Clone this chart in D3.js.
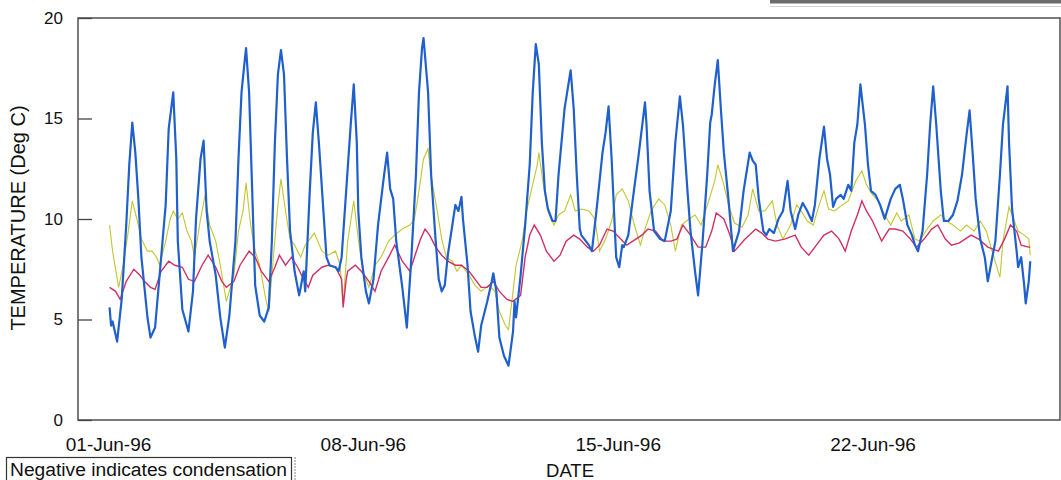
<!DOCTYPE html>
<meta charset="utf-8">
<style>
body { margin: 0; background: #fff; }
svg { font-family: "Liberation Sans", Arial, sans-serif; }
.tick line { stroke: #444; stroke-width: 1.3; }
</style>
<body>
<svg width="1061" height="480"></svg>
<script src="https://d3js.org/d3.v7.min.js"></script>
<script>

// hours after 01-Jun-96 00:00 and temperatures (Deg C)
var blueHours = [1,2,3,6,9,12,14,16,18,20,22,26,28,31,34,38,40,43,45,46,49,53,56,58,61,63,65,67,71,74,77,80,84,86,88,90,91,93,95,97,100,103,106,108,110,112,114,116,118,120,123,126,129,130,133,135,137,139,142,144,146,150,152,154,157,160,162,164,165,167,170,172,175,178,182,184,186,188,190,194,197,200,203,205,207,208,210,211,213,216,218,220,222,224,227,229,231,233,234,237,239,242,244,246,250,253,254,256,258,261,264,267,268,269,272,275,278,280,282,284,286,288,290,293,295,297,301,305,307,309,311,312,315,317,319,322,326,328,330,332,334,335,337,339,340,343,346,350,354,355,357,360,364,367,371,374,377,379,382,384,387,389,392,395,397,398,400,402,404,406,409,412,416,419,423,425,427,429,432,434,436,439,442,445,448,450,453,455,458,461,464,466,469,472,474,476,478,480,483,485,488,490,492,494,496,499,501,503,506,509,512,516,519,522,524,527,530,532,534,537,540,542,544,546,549,551,554,557,560,563,566,568,570,572,575,578,580,582,585,588,590,593,594,596,599,600,602,604,605,607,608];
var blueTemps = [5.6,4.7,4.9,3.9,6.0,9.7,12.7,14.8,13.3,11.0,8.1,5.1,4.1,4.6,7.2,10.7,14.5,16.3,13.0,8.9,5.5,4.4,6.4,10.0,13.0,13.9,10.4,8.9,7.2,5.1,3.6,5.2,8.9,13.0,16.3,17.8,18.5,16.3,11.5,6.7,5.2,4.9,5.6,8.9,13.8,17.2,18.4,17.2,13.0,9.4,7.4,6.2,7.4,6.4,11.4,14.3,15.8,13.8,10.4,8.1,7.7,7.6,7.4,8.1,11.4,14.7,16.7,13.8,10.4,8.1,6.4,5.8,7.0,9.7,12.2,13.3,11.5,11.0,8.9,6.6,4.6,8.1,12.2,16.3,18.5,19.0,17.2,16.3,12.2,8.9,7.0,6.4,6.7,8.2,9.7,10.7,10.4,11.1,10.0,7.7,5.4,4.1,3.4,4.7,5.9,6.9,7.3,6.4,4.1,3.2,2.7,4.4,5.9,5.1,7.2,9.7,12.7,16.3,18.7,17.7,13.8,11.4,10.5,9.9,9.9,12.2,15.5,17.4,15.5,12.2,9.5,9.2,8.9,8.7,8.4,10.4,13.3,14.3,15.6,13.0,9.7,8.1,7.6,8.7,8.6,9.2,11.0,13.3,15.8,14.7,11.4,9.4,9.0,8.9,10.4,13.8,16.1,14.7,11.4,9.4,7.4,6.2,8.9,12.2,14.8,15.2,16.7,17.9,15.5,13.3,11.0,8.4,9.4,11.4,13.3,12.9,12.7,11.0,9.4,9.2,9.5,9.3,10.0,10.4,11.9,10.4,9.5,10.2,10.8,10.4,9.9,10.7,13.0,14.6,13.0,12.2,10.6,11.0,11.2,11.0,11.7,11.4,13.8,14.7,16.7,14.7,12.7,11.4,11.2,10.7,10.0,11.0,11.5,11.7,11.0,9.7,9.2,8.7,8.4,9.4,12.2,14.7,16.6,14.7,11.4,9.9,9.9,10.2,10.9,12.2,14.2,15.4,13.3,11.0,9.0,8.1,6.9,7.7,8.9,12.2,14.7,16.6,13.8,10.5,8.4,7.6,8.1,6.7,5.8,6.9,7.9];

var yellowHours = [1,3,7,10,13,16,19,22,26,29,32,34,38,41,43,46,49,52,55,57,61,64,67,71,74,78,83,86,89,91,94,97,100,104,106,109,112,114,117,120,123,127,130,133,136,141,145,150,153,155,158,162,165,168,172,176,180,185,189,194,199,202,205,208,211,212,214,217,220,223,227,230,233,238,242,246,251,255,258,262,264,267,269,273,276,279,283,284,287,290,294,297,301,305,308,312,317,321,324,328,332,335,339,343,347,351,354,358,363,367,371,374,378,383,387,391,396,400,402,406,409,413,418,422,425,429,433,438,441,445,450,454,457,461,465,468,472,475,479,484,488,493,497,500,504,508,512,516,520,523,528,532,535,540,544,549,553,557,562,566,571,575,579,584,588,590,594,597,600,604,607,608];
var yellowTemps = [9.7,8.4,6.6,7.7,9.2,10.9,10.0,9.0,8.4,8.4,8.1,7.7,8.9,10.0,10.4,10.0,10.3,9.4,8.9,8.1,10.0,11.2,9.7,8.9,7.7,5.9,7.2,9.4,10.4,11.8,9.7,8.4,7.7,6.0,5.4,8.1,10.7,12.0,10.4,9.0,8.7,8.1,8.7,9.0,9.3,8.4,8.2,8.4,7.7,5.8,8.9,10.9,9.0,7.4,6.6,7.7,8.1,8.9,9.2,9.5,9.7,10.0,11.4,13.0,13.5,12.7,11.7,10.4,9.0,8.1,7.9,7.4,7.7,7.2,6.7,6.4,6.7,6.4,5.4,4.7,4.5,6.4,7.7,8.9,10.4,11.4,12.7,13.3,11.7,10.4,9.7,10.2,10.4,11.2,10.4,10.5,10.4,10.0,8.4,9.0,9.9,11.2,11.5,10.9,9.7,8.7,9.5,10.4,11.0,10.7,9.7,8.4,9.7,10.0,10.2,9.7,10.9,11.9,12.7,11.7,10.7,9.8,9.6,10.2,11.5,10.4,10.4,10.9,9.7,9.0,9.7,10.7,10.4,9.9,9.7,10.5,11.4,10.5,10.4,10.7,10.9,11.9,12.4,11.7,11.2,10.9,10.2,9.7,10.3,9.9,10.2,9.0,8.9,9.5,9.9,10.2,9.9,9.7,9.4,9.7,9.4,9.9,9.4,8.1,7.1,8.9,10.6,10.0,9.4,9.2,9.0,8.2];

var redHours = [1,5,8,12,17,21,24,28,31,35,40,44,49,53,57,62,66,71,75,78,83,87,93,97,101,106,110,113,117,121,125,129,132,135,141,145,150,154,155,157,158,163,167,172,176,180,185,189,194,199,202,206,209,212,216,220,224,229,233,238,242,246,250,254,258,263,267,272,275,278,281,285,289,294,298,302,307,311,316,320,324,329,333,338,342,346,352,356,361,366,371,375,379,384,389,394,398,401,406,410,413,420,427,431,435,440,446,453,457,462,466,472,477,482,486,490,494,497,500,504,507,510,515,519,524,529,533,538,543,547,552,556,561,565,569,574,580,587,591,595,599,602,607,608];
var redTemps = [6.6,6.4,6.0,6.9,7.5,7.2,6.9,6.6,6.5,7.4,7.9,7.7,7.6,7.0,6.9,7.7,8.2,7.6,6.9,6.6,6.9,7.7,8.4,8.1,7.4,6.9,7.6,8.2,7.7,8.1,7.6,7.0,6.6,7.2,7.6,7.7,7.6,7.0,5.6,7.0,7.4,7.7,7.4,6.9,6.4,7.4,8.1,8.7,7.9,7.4,8.1,9.0,9.5,9.2,8.6,8.2,7.9,7.7,7.7,7.4,7.0,6.6,6.6,6.9,6.4,6.0,5.9,6.2,8.1,9.2,9.7,9.2,8.4,7.9,8.2,8.9,9.2,9.0,8.6,8.4,8.7,9.5,9.4,9.0,8.7,8.9,9.2,9.5,9.4,8.9,8.9,9.0,9.7,9.2,8.6,8.6,9.4,10.3,10.0,9.2,8.4,9.0,9.5,9.3,9.0,8.9,9.0,9.2,8.6,8.2,8.6,9.2,9.4,9.0,8.4,9.4,10.2,10.9,10.4,9.9,9.4,8.9,9.5,9.5,9.4,9.0,8.6,9.0,9.5,9.7,9.0,8.7,8.8,9.0,9.2,9.0,8.6,8.4,9.0,9.7,9.4,8.7,8.6,8.6];

var yTicks = [0, 5, 10, 15, 20];
var dateTicks = ["1996-06-01", "1996-06-08", "1996-06-15", "1996-06-22"];

var svg = d3.select("svg");

var start = new Date(1996, 5, 1);
var parseDay = d3.timeParse("%Y-%m-%d");

function series(hours, temps) {
	return hours.map(function(h, i) {
		return {date: d3.timeHour.offset(start, h), temp: temps[i]};
	});
}

var x = d3.scaleTime()
	.domain([new Date(1996, 4, 31, 4, 12), new Date(1996, 5, 27, 3, 36)])
	.range([78, 1060]);

var y = d3.scaleLinear()
	.domain([0, 20])
	.range([420, 18]);

var line = d3.line()
	.x(function(d){ return x(d.date); })
	.y(function(d){ return y(d.temp); });

// lines
svg.append("path")
	.datum(series(yellowHours, yellowTemps))
	.attr("fill", "none")
	.attr("stroke", "#c3c62e")
	.attr("stroke-width", 1.1)
	.attr("d", line);

svg.append("path")
	.datum(series(redHours, redTemps))
	.attr("fill", "none")
	.attr("stroke", "#d12f66")
	.attr("stroke-width", 1.4)
	.attr("d", line);

svg.append("path")
	.datum(series(blueHours, blueTemps))
	.attr("fill", "none")
	.attr("stroke", "#1f60cc")
	.attr("stroke-width", 2.2)
	.attr("stroke-linejoin", "round")
	.attr("d", line);

// frame
svg.append("rect")
	.attr("x", 78)
	.attr("y", 18)
	.attr("width", 982)
	.attr("height", 402)
	.attr("fill", "none")
	.attr("stroke", "#444")
	.attr("stroke-width", 1.4);

// axes
var yAxis = d3.axisLeft(y)
	.tickValues(yTicks)
	.tickSize(-14)
	.tickPadding(15);

svg.append("g")
	.attr("transform", "translate(78,0)")
	.call(yAxis)
	.call(function(g){ g.select(".domain").remove(); })
	.selectAll("text")
	.style("font-size", "17px")
	.style("font-family", "'Liberation Sans', Arial, sans-serif")
	.attr("fill", "#111");

var xAxis = d3.axisBottom(x)
	.tickValues(dateTicks.map(parseDay))
	.tickSize(0)
	.tickPadding(18)
	.tickFormat(d3.timeFormat("%d-%b-%y"));

svg.append("g")
	.attr("transform", "translate(0,420)")
	.call(xAxis)
	.call(function(g){ g.select(".domain").remove(); })
	.selectAll("text")
	.style("font-size", "19px")
	.style("font-family", "'Liberation Sans', Arial, sans-serif")
	.attr("fill", "#111");

// axis titles
svg.append("text")
	.attr("transform", "translate(25,218) rotate(-90)")
	.attr("text-anchor", "middle")
	.style("font-size", "20px")
	.attr("fill", "#111")
	.text("TEMPERATURE (Deg C)");

svg.append("text")
	.attr("x", 570)
	.attr("y", 477)
	.attr("text-anchor", "middle")
	.style("font-size", "18.5px")
	.attr("fill", "#111")
	.text("DATE");

// note box, bottom left
svg.append("rect")
	.attr("x", 6.5)
	.attr("y", 457.5)
	.attr("width", 285)
	.attr("height", 40)
	.attr("fill", "#fff")
	.attr("stroke", "#333")
	.attr("stroke-width", 1.2);

svg.append("line")
	.attr("x1", 295).attr("y1", 457)
	.attr("x2", 295).attr("y2", 480)
	.attr("stroke", "#888")
	.attr("stroke-dasharray", "2,1");

svg.append("text")
	.attr("x", 10)
	.attr("y", 476)
	.attr("textLength", 277)
	.attr("lengthAdjust", "spacingAndGlyphs")
	.style("font-size", "18px")
	.attr("fill", "#111")
	.text("Negative indicates condensation");

// edge of a box cut off at the top right
svg.append("rect")
	.attr("x", 770)
	.attr("y", 0)
	.attr("width", 291)
	.attr("height", 3.5)
	.attr("fill", "#6c6c6c");

svg.append("line")
	.attr("x1", 770).attr("y1", 6.5)
	.attr("x2", 1061).attr("y2", 6.5)
	.attr("stroke", "#d4d4d4");

</script>
</body>
</html>
